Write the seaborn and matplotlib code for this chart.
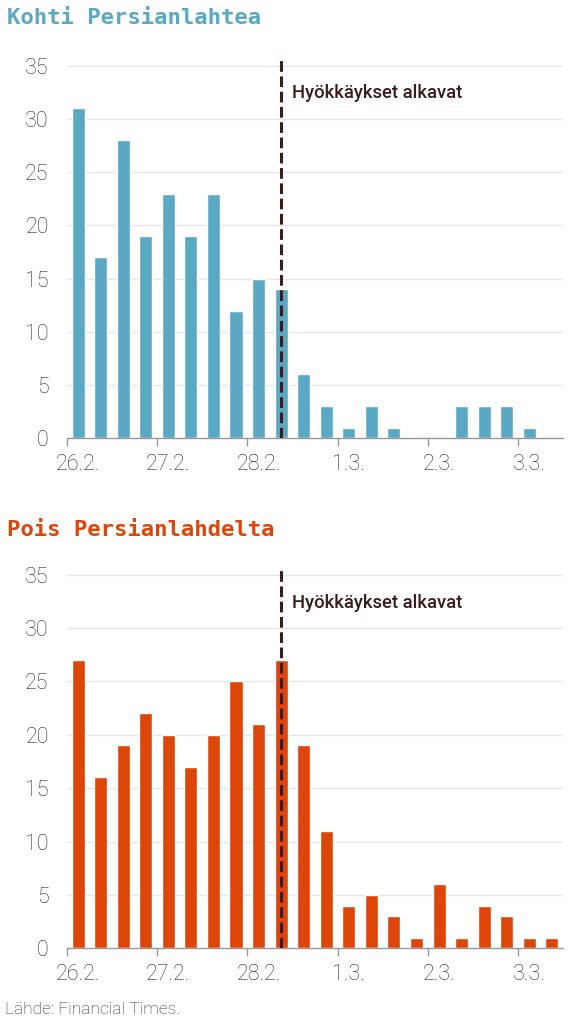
import numpy as np
import pandas as pd
import seaborn as sns
import matplotlib.pyplot as plt
from matplotlib.ticker import FixedLocator, NullFormatter, FixedFormatter

# 6 hour bins starting 26.2. 00:00
to_gulf = [31, 17, 28, 19, 23, 19, 23, 12, 15, 14, 6, 3, 1, 3, 1, 0, 0, 3, 3, 3, 1, 0]
from_gulf = [27, 16, 19, 22, 20, 17, 20, 25, 21, 27, 19, 11, 4, 5, 3, 1, 6, 1, 4, 3, 1, 1]
day_labels = ["26.2.", "27.2.", "28.2.", "1.3.", "2.3.", "3.3."]
attack_bin = 9  # 28.2. 06-12
titles = ["Kohti Persianlahtea", "Pois Persianlahdelta"]
colors = ["#5ba8c4", "#dd4509"]

sns.set_theme(style="white")
plt.rcParams['font.family'] = ['Roboto', 'DejaVu Sans']

fig = plt.figure(figsize=(5.86, 10.24), dpi=100)
ax1 = fig.add_axes([0.114, 0.572, 0.847, 0.371])
ax2 = fig.add_axes([0.114, 0.074, 0.847, 0.372])

for ax, vals, col in [(ax1, to_gulf, colors[0]), (ax2, from_gulf, colors[1])]:
    df = pd.DataFrame({"bin": np.arange(len(vals)), "n": vals})
    sns.barplot(data=df, x="bin", y="n", color=col, width=0.58,
                saturation=1, ax=ax, zorder=2)
    ax.set_xlim(-0.5, len(vals) - 0.5)
    ax.set_ylim(0, 35.7)
    ax.set_yticks(range(0, 36, 5))
    ax.set_yticklabels([str(v) for v in range(0, 36, 5)])
    for y in range(5, 36, 5):
        ax.axhline(y, color="#e6e6e6", lw=1, zorder=0)
    # day ticks at bin edges, labels under first bin of the day
    ax.xaxis.set_major_locator(FixedLocator([d * 4 - 0.5 for d in range(6)]))
    ax.xaxis.set_major_formatter(NullFormatter())
    ax.xaxis.set_minor_locator(FixedLocator([d * 4 for d in range(6)]))
    ax.xaxis.set_minor_formatter(FixedFormatter(day_labels))
    ax.tick_params(axis="x", which="major", length=6, width=1, color="#999999",
                   direction="out", bottom=True)
    ax.tick_params(axis="x", which="minor", length=0, pad=11,
                   labelsize=15.5, labelcolor="#2a2a2a")
    ax.tick_params(axis="y", length=0, pad=13, labelsize=15.5, labelcolor="#2a2a2a")
    for lab in ax.get_xticklabels(minor=True) + ax.get_yticklabels():
        lab.set_fontweight("light")
    ax.set_xlabel("")
    ax.set_ylabel("")
    sns.despine(ax=ax, left=True)
    ax.spines["bottom"].set_color("#999999")
    ax.spines["bottom"].set_linewidth(1)
    ax.axvline(attack_bin, color="#3a1c1c", lw=2.2, dashes=(3.5, 1.5), zorder=3)
    ax.text(attack_bin + 0.5, 32.4, "Hyökkäykset alkavat", fontsize=13.3,
            fontweight="medium", color="#3a1c1c", va="center", ha="left")

fig.text(0.012, 0.982, titles[0], fontsize=16, color=colors[0],
         family="DejaVu Sans Mono", fontweight="bold", va="center")
fig.text(0.012, 0.482, titles[1], fontsize=16, color=colors[1],
         family="DejaVu Sans Mono", fontweight="bold", va="center")
fig.text(0.009, 0.0145, "Lähde: Financial Times.", fontsize=12.5, color="#2a2a2a",
         fontweight="light", va="center")

fig.savefig("out.png", dpi=100)
